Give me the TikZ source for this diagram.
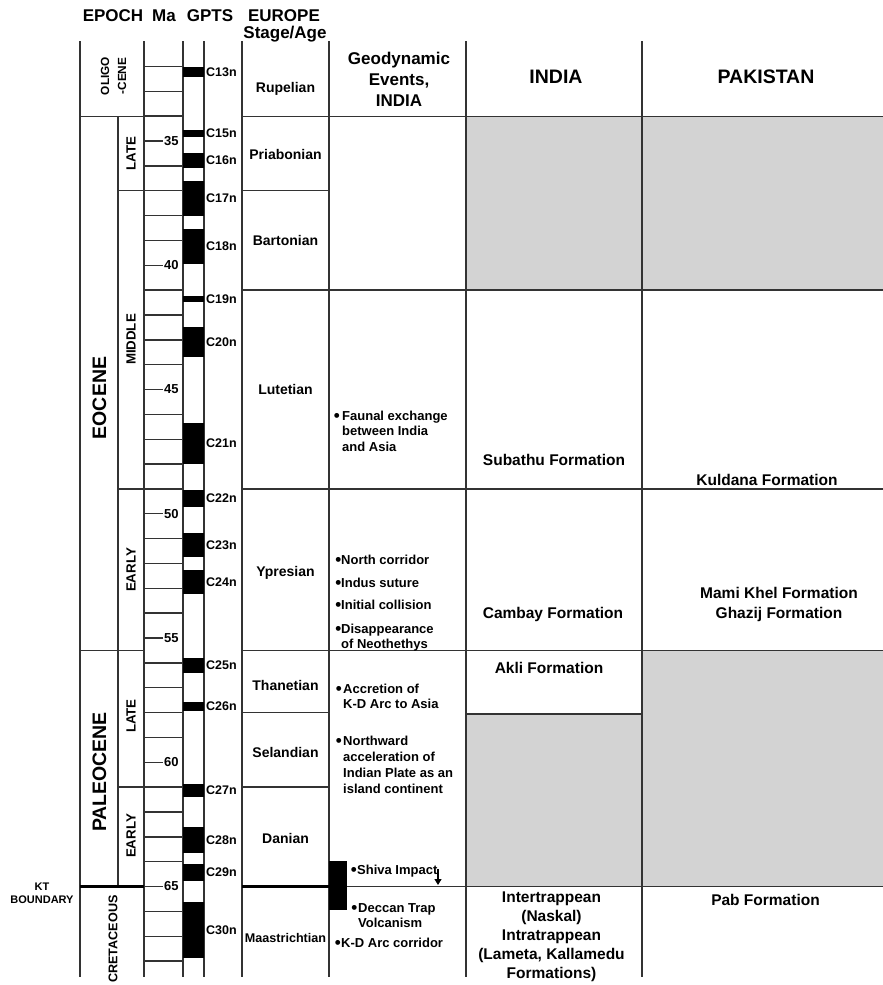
\documentclass[tikz,border=0pt]{standalone}
\usepackage{fontspec}
\setmainfont{Liberation Sans}
\usepackage{xcolor}
\usepackage{tikz}
\usetikzlibrary{arrows.meta}
\definecolor{nodata}{RGB}{211,211,211}
\newcommand{\evdot}[1]{\llap{\raisebox{-1pt}{\fontsize{17}{17}\selectfont\textbullet}\hspace{#1}}}

\begin{document}
\begin{tikzpicture}[
  x=1pt, y=-1pt,
  rule/.style={line width=1.4pt, draw=black!80},
  ktrule/.style={line width=3.8pt, draw=black},
  hdr/.style={font=\bfseries\fontsize{17}{21}\selectfont, anchor=base, inner sep=0pt, align=center},
  bighdr/.style={hdr, font=\bfseries\fontsize{19.5}{22}\selectfont},
  epochlbl/.style={font=\bfseries\fontsize{19.5}{22}\selectfont, rotate=90, inner sep=0pt},
  sublbl/.style={font=\bfseries\fontsize{13.3}{16}\selectfont, rotate=90, inner sep=0pt, align=center},
  stagelbl/.style={font=\bfseries\fontsize{14}{17}\selectfont, anchor=base, inner sep=0pt},
  chronlbl/.style={font=\bfseries\fontsize{12.5}{15}\selectfont, anchor=west, inner sep=0pt},
  malbl/.style={font=\bfseries\fontsize{13}{15}\selectfont, anchor=west, inner sep=0pt},
  event/.style={font=\bfseries\fontsize{13}{15.5}\selectfont, anchor=base west, align=left, inner sep=0pt},
  fmn/.style={font=\bfseries\fontsize{15.5}{19}\selectfont, anchor=base, align=center, inner sep=0pt},
  impact/.style={-{Triangle[length=6pt,width=7pt]}, line width=1.2pt},
]
\useasboundingbox (0,0) rectangle (883,985);

\fill[nodata] (466,116.2) rectangle (883,290.1);
\fill[nodata] (466,714) rectangle (642,886.5);
\fill[nodata] (642,650.4) rectangle (883,886.5);

\foreach \xx in {80,144,183,204,242,329,466,642}
  \draw[rule] (\xx,41) -- (\xx,977);
\draw[rule] (118,116.2) -- (118,886.5);

\draw[rule] (80,116.2) -- (183,116.2) (242,116.2) -- (883,116.2);
\draw[rule] (118,190.7) -- (183,190.7) (242,190.7) -- (329,190.7);
\draw[rule] (242,290.1) -- (883,290.1);
\draw[rule] (118,488.9) -- (183,488.9) (242,488.9) -- (883,488.9);
\draw[rule] (80,650.4) -- (144,650.4) (242,650.4) -- (883,650.4);
\draw[rule] (242,712.6) -- (329,712.6);
\draw[rule] (466,714) -- (642,714);
\draw[rule] (118,787.1) -- (183,787.1) (242,787.1) -- (329,787.1);
\draw[rule] (329,886.5) -- (883,886.5);
\draw[ktrule] (80,886.5) -- (144,886.5) (242,886.5) -- (329,886.5);

\foreach \m in {32,...,68}{
  \pgfmathsetmacro{\yy}{141+(\m-35)*24.85}
  \pgfmathtruncatemacro{\mres}{mod(\m,5)}
  \ifnum\mres=0
    \draw[rule] (144,\yy) -- (163,\yy);
    \node[malbl] (ma\m) at (164,\yy) {\m};
  \else
    \draw[rule] (144,\yy) -- (183,\yy);
  \fi
}

\foreach \tp/\bt/\cn in {67/77/13, 130/137/15, 153/168/16, 181/216/17, 229/264/18,
    296/302/19, 327/357/20, 423/464/21, 490/507/22, 533/557/23, 570/594/24,
    658/673/25, 702/711/26, 784/797/27, 827/853/28, 864/881/29, 902/958/30}{
  \fill (183,\tp) rectangle (204,\bt);
  \node[chronlbl] (c\cn) at (206,{(\tp+\bt)/2}) {C\cn n};
}

\fill (329,861) rectangle (347,910);

\node[hdr] (hepoch) at (113,21) {EPOCH};
\node[hdr] (hma) at (164,21) {Ma};
\node[hdr] (hgpts) at (210,21) {GPTS};
\node[hdr] (heurope) at (284,21.5) {EUROPE};
\node[hdr] (hstage) at (285,38) {Stage/Age};
\node[hdr] (hevents) at (399,106) {Geodynamic\\Events,\\INDIA};
\node[bighdr] (hindia) at (556,83) {INDIA};
\node[bighdr] (hpak) at (766,83) {PAKISTAN};

\node[sublbl, font=\bfseries\fontsize{11.8}{17}\selectfont] (oligo) at (113.5,76) {OLIGO\\-CENE};
\node[epochlbl] (eocene) at (99.5,398) {EOCENE};
\node[epochlbl] (paleocene) at (99.5,772) {PALEOCENE};
\node[sublbl] (elate) at (131,153.5) {LATE};
\node[sublbl] (emiddle) at (131,339.5) {MIDDLE};
\node[sublbl] (eearly) at (131,570) {EARLY};
\node[sublbl] (plate) at (131,716) {LATE};
\node[sublbl] (pearly) at (131,836) {EARLY};
\node[sublbl, font=\bfseries\fontsize{12.6}{15}\selectfont] (cret) at (113,939) {CRETACEOUS};
\node[hdr, font=\bfseries\fontsize{11}{12.5}\selectfont] (ktb) at (42,903) {KT\\BOUNDARY};

\node[stagelbl] (rupelian) at (285.5,92) {Rupelian};
\node[stagelbl] (priabonian) at (285.5,159) {Priabonian};
\node[stagelbl] (bartonian) at (285.5,245.5) {Bartonian};
\node[stagelbl] (lutetian) at (285.5,394) {Lutetian};
\node[stagelbl] (ypresian) at (285.5,576) {Ypresian};
\node[stagelbl] (thanetian) at (285.5,690) {Thanetian};
\node[stagelbl] (selandian) at (285.5,757) {Selandian};
\node[stagelbl] (danian) at (285.5,843.5) {Danian};
\node[stagelbl, font=\bfseries\fontsize{12.6}{15}\selectfont] (maas) at (285.5,942) {Maastrichtian};

\node[event] (faunal) at (342,451) {\evdot{2.5pt}Faunal exchange\\between India\\and Asia};
\node[event] (north) at (341,564) {\evdot{0pt}North corridor};
\node[event] (indus) at (341,587) {\evdot{0pt}Indus suture};
\node[event] (initial) at (341,609) {\evdot{0pt}Initial collision};
\node[event] (neotethys) at (341,648.5) {\evdot{0pt}Disappearance\\of Neothethys};
\node[event] (accretion) at (343,708.5) {\evdot{1.5pt}Accretion of\\K-D Arc to Asia};
\node[event, font=\bfseries\fontsize{13}{16}\selectfont] (northward) at (343,793) {\evdot{1.5pt}Northward\\acceleration of\\Indian Plate as an\\island continent};
\node[event] (shiva) at (357,874) {\evdot{0.5pt}Shiva Impact};
\node[event] (deccan) at (358,927.5) {\evdot{1pt}Deccan Trap\\Volcanism};
\node[event] (kdarc) at (341,947) {\evdot{0.5pt}K-D Arc corridor};

\coordinate (shivafrom) at (438,869);
\coordinate (shivahit) at (438,885);
\draw[impact] (shivafrom) -- (shivahit);

\node[fmn] (subathu) at (554,465) {Subathu Formation};
\node[fmn] (kuldana) at (767,485) {Kuldana Formation};
\node[fmn] (cambay) at (553,618) {Cambay Formation};
\node[fmn, font=\bfseries\fontsize{15.5}{20}\selectfont] (mami) at (779,618) {Mami Khel Formation\\Ghazij Formation};
\node[fmn] (akli) at (549,673) {Akli Formation};
\node[fmn] (trap) at (551.5,978) {Intertrappean\\(Naskal)\\Intratrappean\\(Lameta, Kallamedu\\Formations)};
\node[fmn] (pab) at (765.5,905) {Pab Formation};
\end{tikzpicture}
\end{document}
